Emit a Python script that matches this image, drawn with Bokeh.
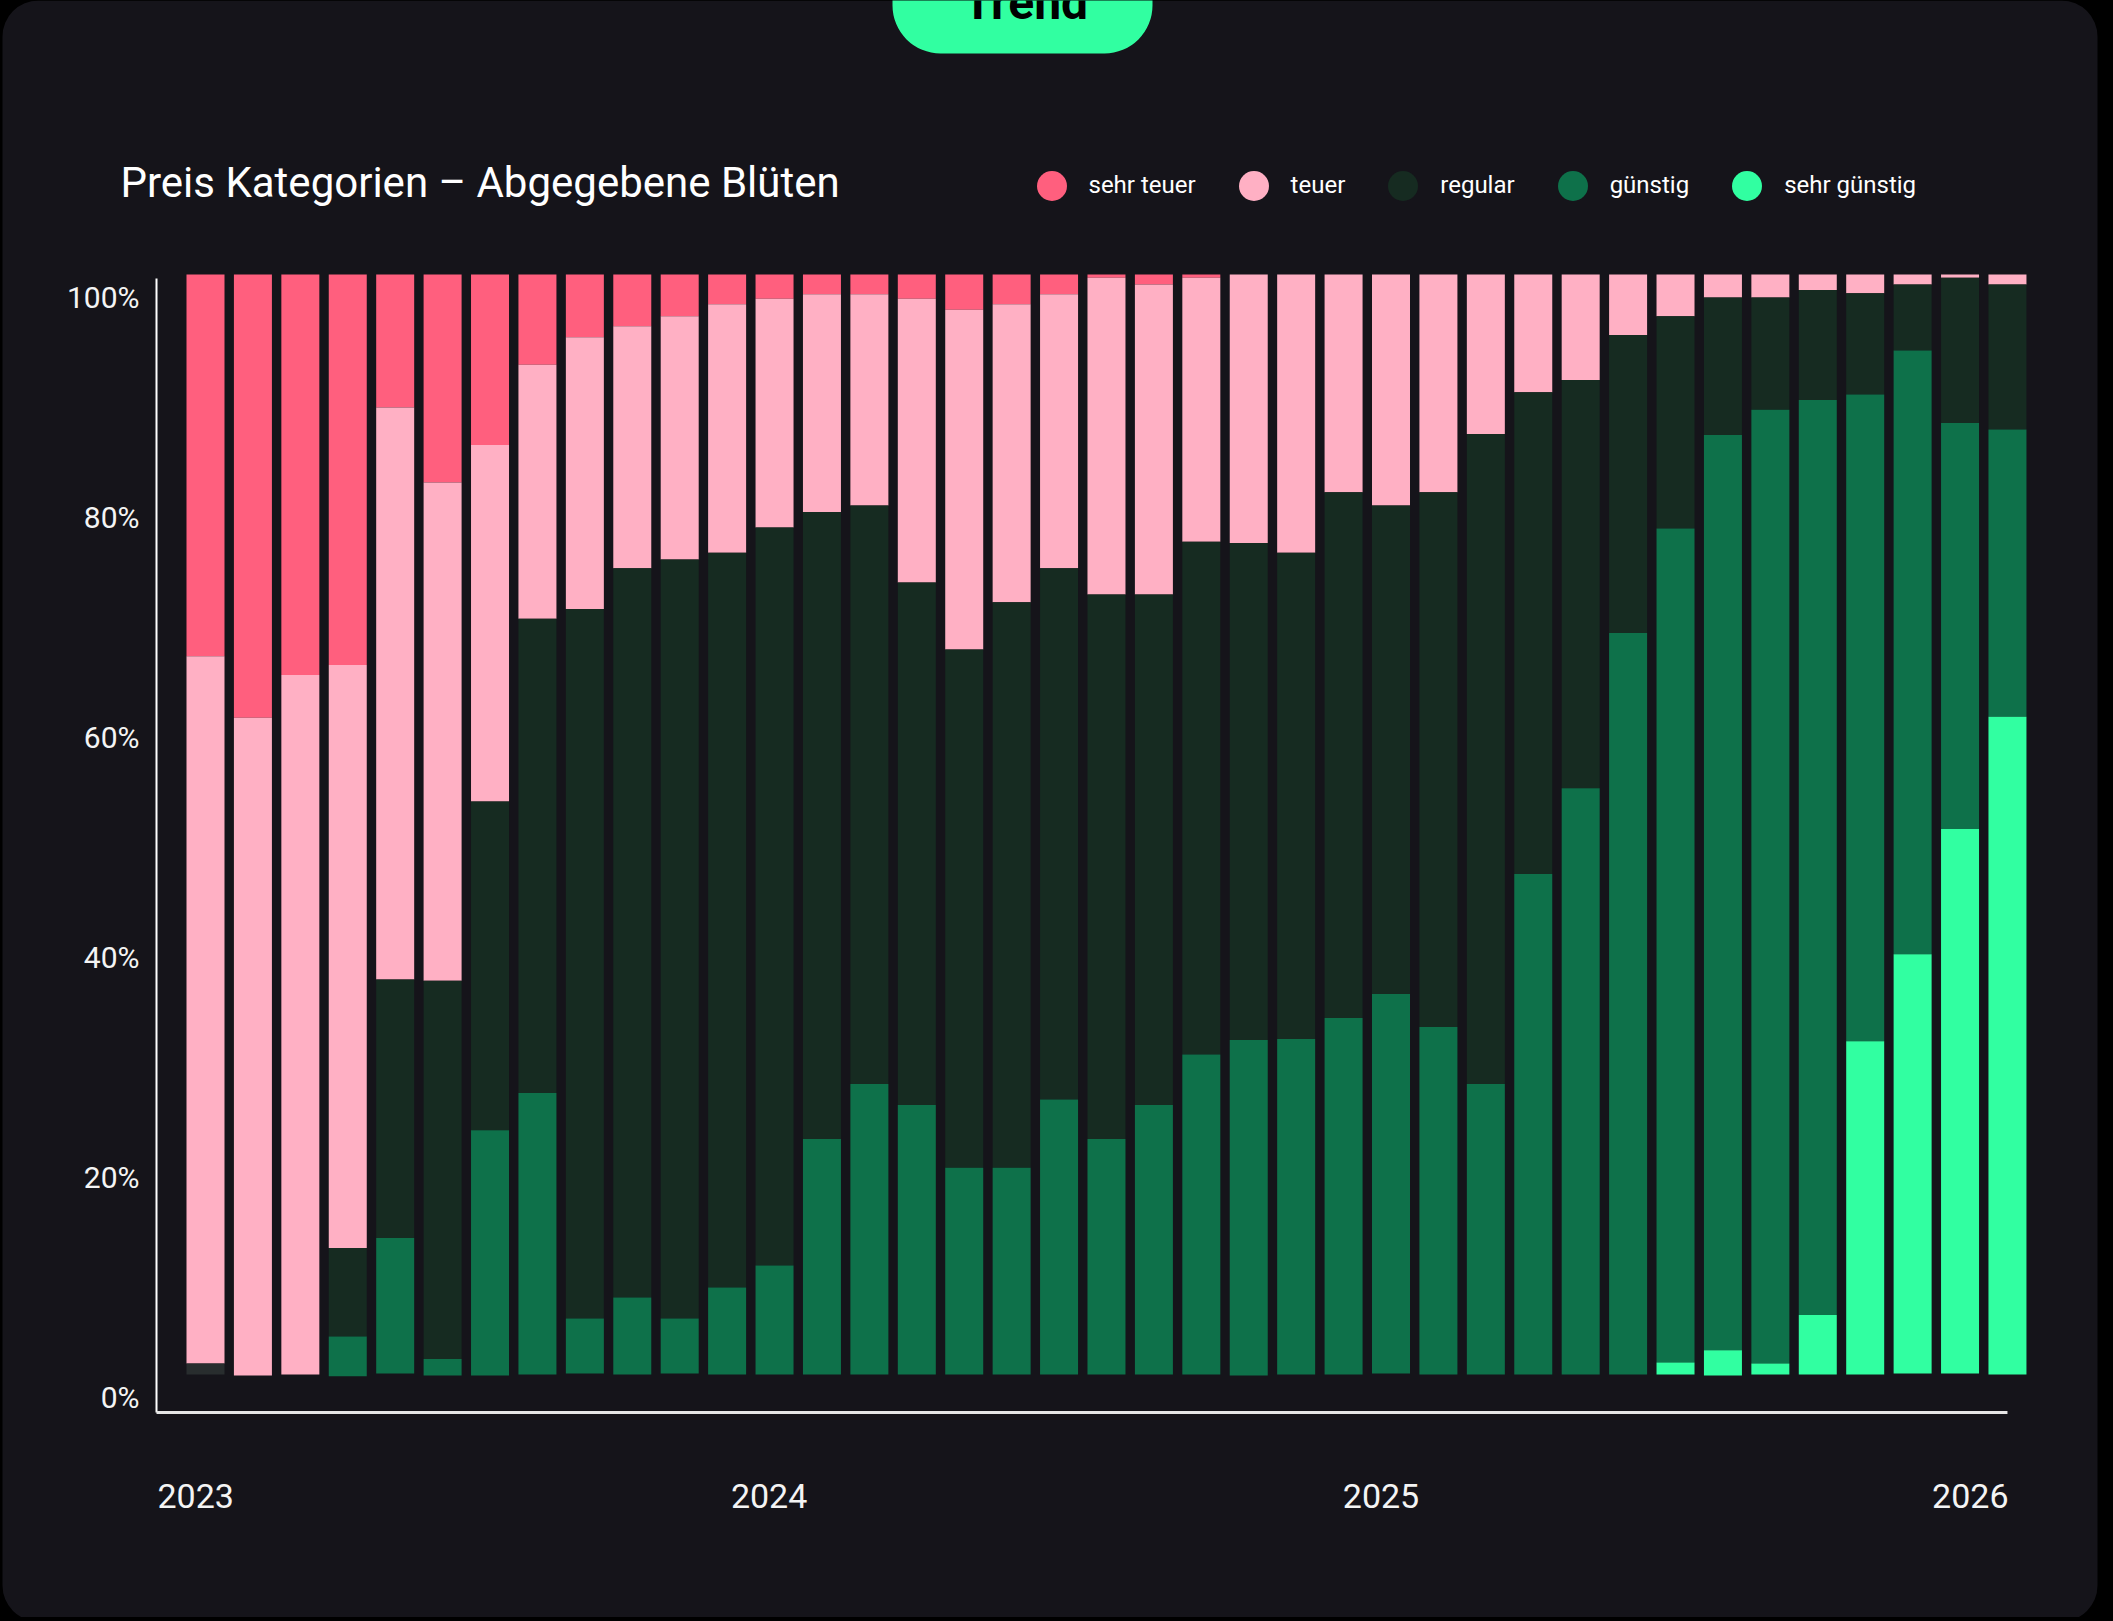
import numpy as np
from bokeh.plotting import figure
from bokeh.models import (ColumnDataSource, Range1d, BoxAnnotation, Legend, LegendItem)
from bokeh.core.properties import value
from bokeh.embed import file_html
from bokeh.resources import INLINE

# ---------------- data (percent of dispensed flowers, stacked from the top) -------------
periods = [f"{2023 + i // 13} P{i % 13 + 1:02d}" for i in range(39)]

sehr_teuer = [34.7, 40.3, 36.4, 35.5, 12.1, 18.9, 15.5, 8.2, 5.7, 4.7,
              3.8, 2.7, 2.2, 1.8, 1.8, 2.2, 3.2, 2.7, 1.8, 0.3,
              0.9, 0.3, 0, 0, 0, 0, 0, 0, 0, 0,
              0, 0, 0, 0, 0, 0, 0, 0, 0]
teuer = [64.3, 59.8, 63.6, 53.0, 52.0, 45.3, 32.4, 23.1, 24.7, 22.0,
         22.1, 22.6, 20.8, 19.8, 19.2, 25.8, 30.9, 27.1, 24.9, 28.8,
         28.2, 24.0, 24.4, 25.3, 19.8, 21.0, 19.8, 14.5, 10.7, 9.6,
         5.5, 3.8, 2.1, 2.1, 1.4, 1.7, 0.9, 0.3, 0.9]
regular = [0, 0, 0, 8.05, 23.5, 34.4, 29.9, 43.1, 64.5, 66.3,
           69.0, 66.8, 67.1, 57.0, 52.6, 47.5, 47.1, 51.4, 48.3, 49.5,
           46.4, 46.6, 45.2, 44.2, 47.8, 44.4, 48.6, 59.1, 43.8, 37.1,
           27.1, 19.3, 12.5, 10.2, 10.0, 9.2, 6.0, 13.2, 13.2]
guenstig = [0, 0, 0, 3.6, 12.3, 1.5, 22.3, 25.6, 5.0, 7.0,
            5.0, 7.9, 9.9, 21.4, 26.4, 24.5, 18.8, 18.8, 25.0, 21.4,
            24.5, 29.1, 30.5, 30.5, 32.4, 34.5, 31.6, 26.4, 45.5, 53.3,
            67.4, 75.8, 83.2, 86.7, 83.2, 58.8, 54.9, 36.9, 26.1]
sehr_guenstig = [0] * 31 + [1.1, 2.3, 1.0, 5.4, 30.3, 38.1, 49.5, 59.8]
ohne_angabe = [1.0] + [0] * 38

series_names = ["sehr teuer", "teuer", "regular", "günstig", "sehr günstig"]
series_values = [sehr_teuer, teuer, regular, guenstig, sehr_guenstig]
series_colors = ["#ff5f7e", "#ffb0c4", "#162b21", "#0e714a", "#31ffa1"]
other_color = "#282d2e"

y_tick_values = [0, 20, 40, 60, 80, 100]
y_tick_labels = ["0%", "20%", "40%", "60%", "80%", "100%"]
year_labels = ["2023", "2024", "2025", "2026"]

title_text = "Preis Kategorien – Abgegebene Blüten"
badge_text = "Trend"

# ---------------- layout (reference pixel geometry) -------------------------------------
W, H = 2105, 1617
PX_PER_BAR = 47.42
PX_PER_PCT = 11.0
BAR0_PX = 205       # centre of the first bar
VAL100_PX = 274     # y of the 100 % line


def xd(px):
    return (px - BAR0_PX) / PX_PER_BAR


def yd(py):
    return 100 - (py - VAL100_PX) / PX_PER_PCT


FONT = value("Roboto")
CARD = "#15141a"
TXT = "#f4f4f4"

p = figure(width=W, height=H, output_backend="svg", toolbar_location=None,
           x_range=Range1d(xd(0), xd(W)), y_range=Range1d(yd(H), yd(0)),
           x_axis_location=None, y_axis_location=None,
           min_border=0, min_border_left=0, min_border_right=0,
           min_border_top=0, min_border_bottom=0)
p.border_fill_color = "#000000"
p.background_fill_color = None
p.outline_line_color = None
p.grid.visible = False

# card with rounded corners and the badge (both drawn beneath the glyphs)
card = BoxAnnotation(left=xd(2), right=xd(2097), top=yd(0), bottom=yd(1621),
                     fill_color=CARD, fill_alpha=1, line_color=None,
                     border_radius=36, level="underlay")
p.add_layout(card)
badge = BoxAnnotation(left=xd(892), right=xd(1152), top=yd(-60), bottom=yd(53),
                      fill_color="#31ffa1", fill_alpha=1, line_color=None,
                      border_radius=48, level="underlay")
p.add_layout(badge)

# ---------------- stacked bars (top down) -----------------------------------------------
x = np.arange(len(periods))
vals = np.array(series_values + [ohne_angabe], dtype=float)
bottoms = 100 - np.cumsum(vals, axis=0)
tops = bottoms + vals
colors = series_colors + [other_color]
for k in range(vals.shape[0]):
    src = ColumnDataSource(dict(x=x, top=tops[k], bottom=bottoms[k], period=periods))
    p.vbar(x="x", top="top", bottom="bottom", width=38 / PX_PER_BAR, source=src,
           fill_color=colors[k], line_color=None)

# ---------------- axes (lines + tick labels) --------------------------------------------
p.segment(x0=[xd(156)], y0=[yd(278)], x1=[xd(156)], y1=[yd(1412)],
          line_color="#ffffff", line_width=2)
p.segment(x0=[xd(156)], y0=[yd(1412)], x1=[x[-1]], y1=[yd(1412)],
          line_color="#e6e6e6", line_width=3)

p.text(x=[xd(139)] * len(y_tick_values), y=y_tick_values, text=y_tick_labels,
       y_offset=22.5, text_align="right", text_baseline="middle",
       text_font=FONT, text_font_size="30px", text_color=TXT)

year_x = [xd(157), xd(768.6), xd(1380.5), xd(2008)]
year_align = ["left", "center", "center", "right"]
for lab, xx, al in zip(year_labels, year_x, year_align):
    p.text(x=[xx], y=[yd(1495)], text=[lab], text_align=al, text_baseline="middle",
           text_font=FONT, text_font_size="34px", text_color=TXT)

# ---------------- title, badge text, legend ---------------------------------------------
p.text(x=[xd(120)], y=[yd(181.5)], text=[title_text], text_align="left",
       text_baseline="middle", text_font=FONT, text_font_size="42px",
       text_color="#ffffff")

p.text(x=[xd(1025)], y=[yd(2)], text=[badge_text], text_align="center",
       text_baseline="middle", text_font=FONT, text_font_style="bold",
       text_font_size="48px", text_color="#000000")

items = []
for name, col in zip(series_names, series_colors):
    r = p.scatter(x=[xd(-500)], y=[yd(-500)], marker="circle", size=30,
                  fill_color=col, line_color=None)
    items.append(LegendItem(label=name, renderers=[r]))
legend = Legend(items=items, orientation="horizontal",
                location=(1013.5, H - 222.5),
                glyph_width=75, glyph_height=75, label_standoff=0, spacing=20,
                padding=0, margin=0, background_fill_alpha=0, border_line_color=None,
                label_text_color="#ffffff", label_text_font="Roboto",
                label_text_font_size="24px")
p.add_layout(legend)

template = """{% block postamble %}<style>html, body { background: #000000; }</style>{% endblock %}"""
open("out.html", "w").write(file_html(p, INLINE, template=template))
